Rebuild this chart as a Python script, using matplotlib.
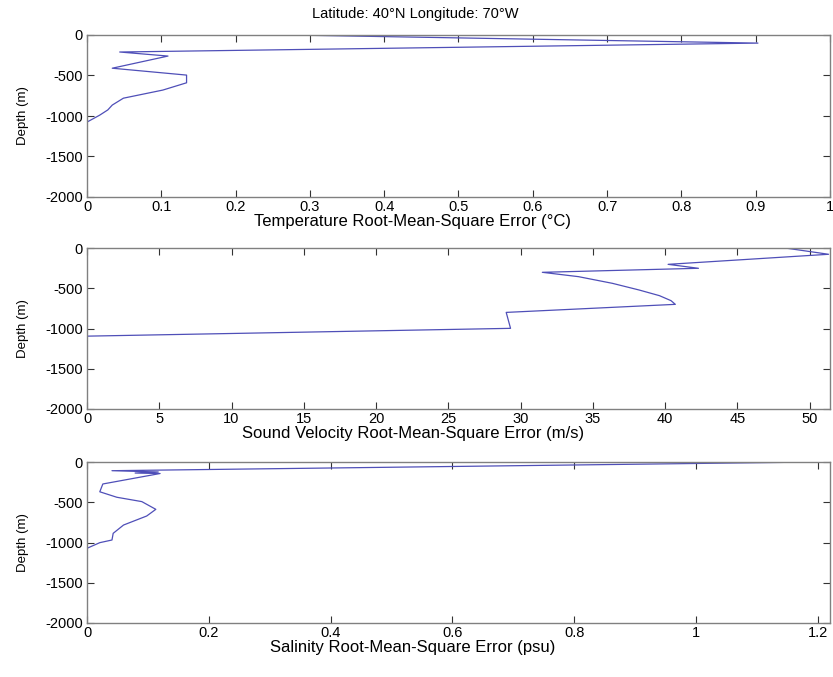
import matplotlib
matplotlib.use("Agg")
import matplotlib.pyplot as plt

plt.rcParams['font.family'] = ['Liberation Sans', 'DejaVu Sans']
plt.rcParams['axes.unicode_minus'] = False

# Temperature RMS error profile
temp_rmse = [0.276, 0.903, 0.044, 0.109, 0.034, 0.134, 0.134, 0.102, 0.049, 0.034, 0.028, 0.017, 0.0]
temp_depth = [0, -100, -210, -260, -410, -495, -590, -680, -780, -865, -925, -990, -1075]

# Sound velocity RMS error profile
sv_rmse = [48.3, 51.3, 40.2, 42.3, 31.5, 34.0, 36.35, 38.2, 39.6, 40.4, 40.7, 29.0, 29.3, 0.0]
sv_depth = [0, -78, -203, -252, -302, -356, -439, -522, -592, -654, -700, -800, -998, -1095]

# Salinity RMS error profile
sal_rmse = [1.142, 0.041, 0.117, 0.079, 0.12, 0.026, 0.021, 0.049, 0.09, 0.113, 0.098, 0.06, 0.043, 0.041, 0.021, 0.0]
sal_depth = [-5, -108, -124, -137, -143, -273, -370, -438, -492, -588, -671, -783, -886, -969, -1002, -1072]

yticks = [0, -500, -1000, -1500, -2000]
temp_xticks = [0, 0.1, 0.2, 0.3, 0.4, 0.5, 0.6, 0.7, 0.8, 0.9, 1]
temp_xticklabels = ['0', '0.1', '0.2', '0.3', '0.4', '0.5', '0.6', '0.7', '0.8', '0.9', '1']
sv_xticks = [0, 5, 10, 15, 20, 25, 30, 35, 40, 45, 50]
sal_xticks = [0, 0.2, 0.4, 0.6, 0.8, 1.0, 1.2]
sal_xticklabels = ['0', '0.2', '0.4', '0.6', '0.8', '1', '1.2']

title = 'Latitude: 40°N Longitude: 70°W'
xlabels = ['Temperature Root-Mean-Square Error (°C)',
           'Sound Velocity Root-Mean-Square Error (m/s)',
           'Salinity Root-Mean-Square Error (psu)']

fig = plt.figure(figsize=(8.33, 6.77), dpi=100)
left = 87 / 833
width = 743 / 833
rects = [
    [left, 1 - 197 / 677, width, 162 / 677],
    [left, 1 - 409 / 677, width, 161 / 677],
    [left, 1 - 623 / 677, width, 161 / 677],
]
line_color = '#4f4fb8'

datasets = [
    (temp_rmse, temp_depth, (0, 1), temp_xticks, temp_xticklabels),
    (sv_rmse, sv_depth, (0, 51.4), sv_xticks, [str(t) for t in sv_xticks]),
    (sal_rmse, sal_depth, (0, 1.22), sal_xticks, sal_xticklabels),
]

for i, (rect, (xv, yv, xlim, xt, xtl)) in enumerate(zip(rects, datasets)):
    ax = fig.add_axes(rect)
    ax.plot(xv, yv, color=line_color, linewidth=0.9)
    ax.set_xlim(*xlim)
    ax.set_ylim(-2000, 0)
    ax.set_xticks(xt)
    ax.set_xticklabels(xtl)
    ax.set_yticks(yticks)
    ax.tick_params(direction='in', top=True, right=True, length=5, width=0.8,
                   labelsize=10.5, colors='#333333', labelcolor='black')
    ax.tick_params(axis='x', pad=2)
    ax.tick_params(axis='y', pad=3)
    for sp in ax.spines.values():
        sp.set_color('#808080')
        sp.set_linewidth(1.0)
    ax.set_xlabel(xlabels[i], fontsize=12, labelpad=0)
    ax.xaxis.label.set_x((413 - 87) / 743)
    ax.set_ylabel('Depth (m)', fontsize=9.5)
    ax.yaxis.set_label_coords(-(87 - 29) / 743, 0.5)
    if i == 0:
        fig.text(415 / 833, 1 - 14 / 677, title, ha='center', va='center', fontsize=10.5)

fig.savefig('out.png', dpi=100)
